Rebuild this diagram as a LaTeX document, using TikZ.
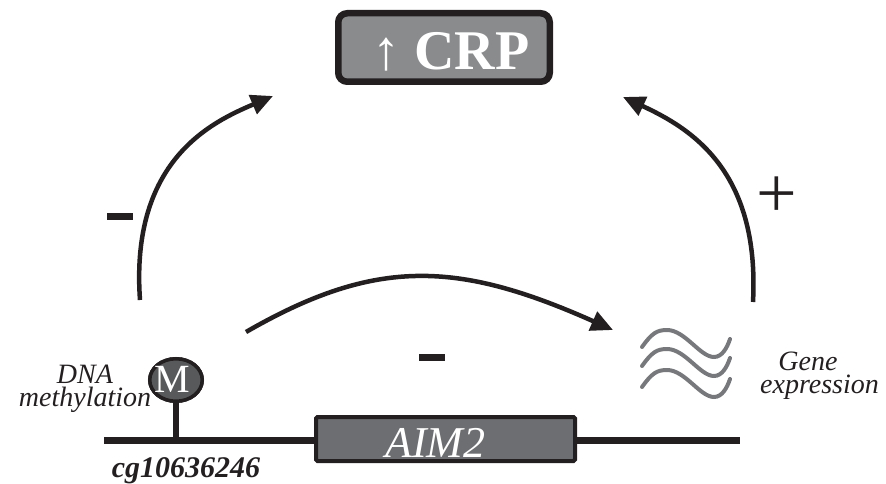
\documentclass[tikz,border=0pt]{standalone}
\usepackage{fontspec}
\setmainfont{Liberation Serif}
\usetikzlibrary{arrows.meta,shapes.geometric}
\definecolor{ink}{HTML}{231F20}
\definecolor{crpgray}{HTML}{8A8B8D}
\definecolor{genegray}{HTML}{6D6E71}
\definecolor{markgray}{HTML}{58595B}
\definecolor{wavegray}{HTML}{77787B}
\begin{document}
\begin{tikzpicture}[x=1pt,y=-1pt,
  flow/.style={draw=ink,line width=4.5pt,-{Triangle[length=22pt,width=20pt]}},
  dnastrand/.style={draw=ink,line width=7pt},
  stemline/.style={draw=ink,line width=5.5pt},
  crpbox/.style={draw=ink,line width=6.5pt,fill=crpgray,rounded corners=9pt,
    minimum width=211.5pt,minimum height=68.5pt,inner sep=0pt},
  genebox/.style={draw=ink,line width=4pt,fill=genegray,rounded corners=1.5pt,
    minimum width=259pt,minimum height=44pt,inner sep=0pt},
  markbox/.style={ellipse,draw=ink,line width=3.5pt,fill=markgray,
    minimum width=52.5pt,minimum height=42.5pt,inner sep=0pt},
  signbar/.style={fill=ink,minimum width=26pt,minimum height=7pt,inner sep=0pt},
  wave/.style={draw=wavegray,line width=4pt,line cap=round},
  lbl/.style={anchor=north,inner sep=0pt,text=ink,align=center,
    font=\fontsize{28}{23.5}\selectfont\itshape},
  whitetext/.style={anchor=base,inner sep=0pt,text=white},
]
\path[use as bounding box] (0,0) rectangle (886,484);

% DNA strand with the methylation site and the gene
\coordinate (dnaL) at (104,440.5);
\coordinate (dnaR) at (740,440.5);
\draw[dnastrand] (dnaL) -- (dnaR);

\node[markbox] (mark) at (176,380) {};
\draw[stemline] (mark.south) -- (mark.south |- dnaL);
\node[markbox] at (mark) {};
\node[whitetext,font=\fontsize{40}{40}\selectfont] (mtext) at (172,392) {M};

\node[genebox] (gene) at (445.5,439) {};
\node[whitetext,font=\fontsize{44}{44}\selectfont\itshape] (genetext) at (435.5,457) {AIM2};

% CRP box
\node[crpbox] (crp) at (444,47.5) {};
\node[whitetext,font=\fontsize{56}{56}\selectfont\bfseries] (crptext) at (451,70) {↑ CRP};

% transcripts
\foreach \dy in {0,19,40}{
  \draw[wave] (642,347+\dy) .. controls (652,333+\dy) and (657,330+\dy) .. (667,330+\dy)
    .. controls (685,330+\dy) and (700,357+\dy) .. (714,357+\dy)
    .. controls (722,357+\dy) and (727,348+\dy) .. (730,339+\dy);
}

% effect arrows
\coordinate (lstart) at (140,300);
\coordinate (ltip) at (273,96);
\coordinate (rstart) at (753,302);
\coordinate (rtip) at (623,97);
\coordinate (mstart) at (246,332);
\coordinate (mtip) at (613,330);
\draw[flow] (lstart) .. controls (130,160) and (212,122) .. (ltip);
\draw[flow] (rstart) .. controls (760,170) and (690,128) .. (rtip);
\draw[flow] (mstart) .. controls (376,257) and (458,261) .. (mtip);

% signs
\node[signbar] (minusL) at (120,216) {};
\node[signbar] (minusM) at (432,357) {};
\node[inner sep=0pt,text=ink,font=\fontsize{72}{72}\selectfont] (plusR) at (777,197) {+};

% labels
\node[lbl] (methlbl) at (85,364.5) {DNA\\methylation};
\node[lbl] (exprlbl) at (819.5,351.5) {Gene\hspace*{23pt}\\expression};
\node[anchor=base,inner sep=0pt,text=ink,font=\fontsize{30}{30}\selectfont\bfseries\itshape]
  (cglbl) at (186,477) {cg10636246};
\end{tikzpicture}
\end{document}
